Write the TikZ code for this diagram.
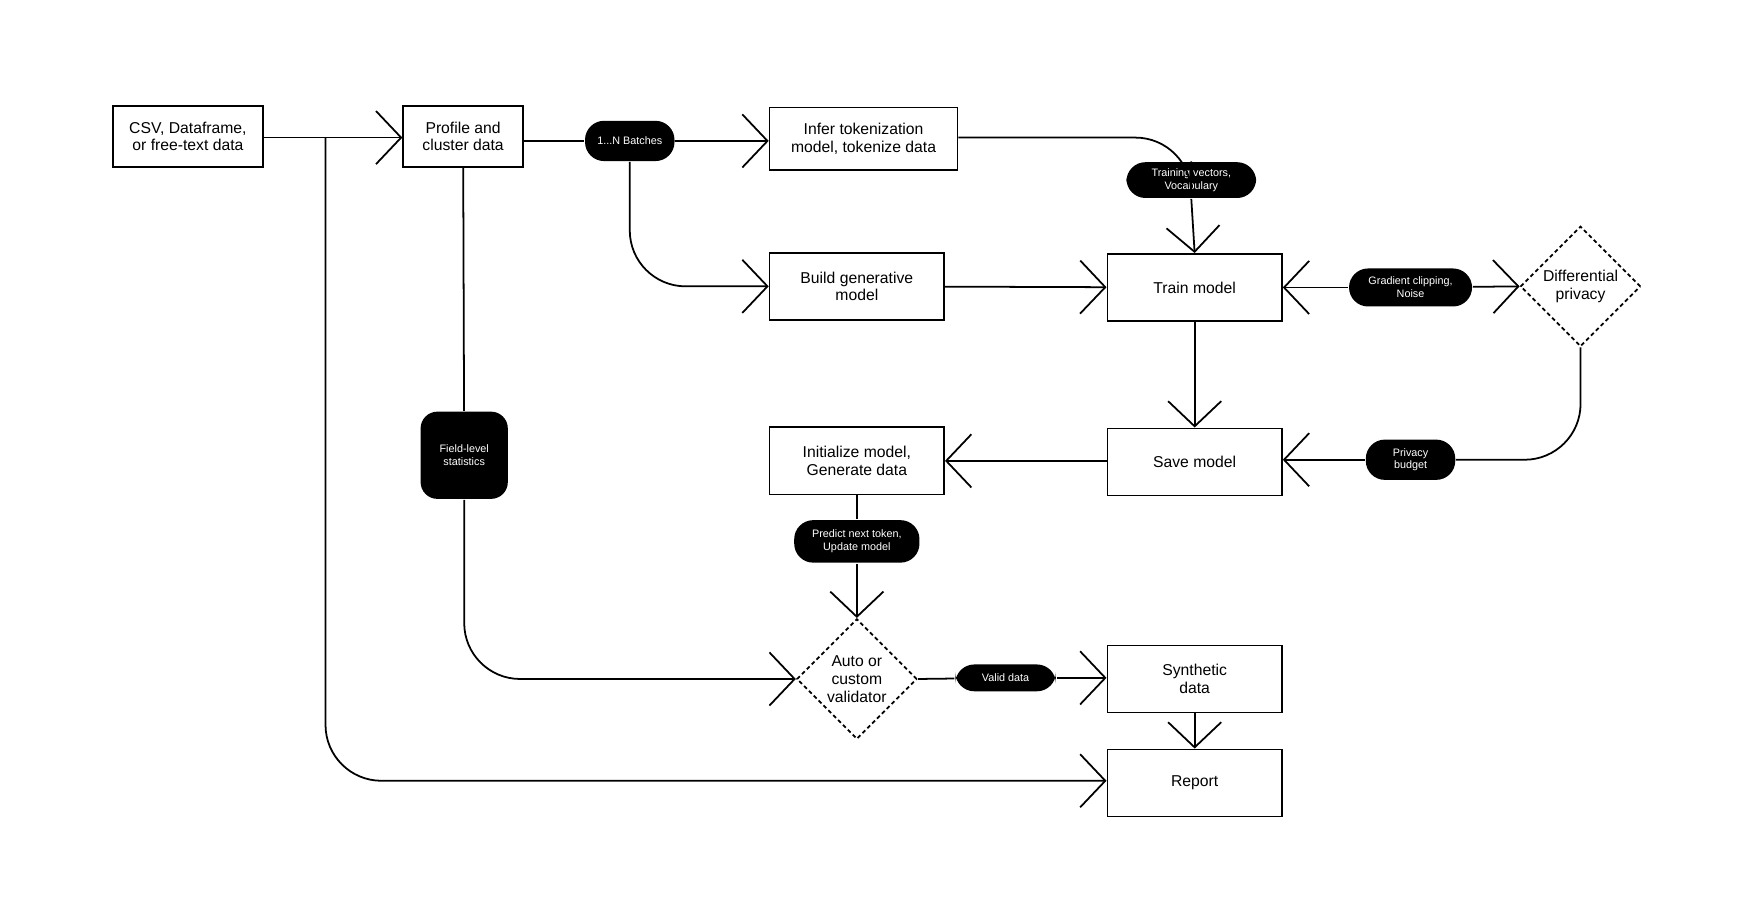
\documentclass[tikz,border=0pt]{standalone}
\usepackage{fontspec}
\setmainfont{Liberation Sans}
\usetikzlibrary{arrows.meta,shapes.geometric}
\begin{document}
\begin{tikzpicture}[x=0.02cm,y=-0.02cm,line width=0.9pt,
  box/.style={draw,rectangle,minimum width=#1*0.02cm,align=center,font=\fontsize{8}{9}\selectfont,inner sep=2pt},
  dia/.style={draw,diamond,dashed,dash pattern=on 2pt off 1.5pt,minimum width=2.15cm,minimum height=2.15cm,inner sep=0pt,align=center,font=\fontsize{8}{9}\selectfont},
  pill/.style={fill=black,text=white,rounded corners=0.34cm,align=center,font=\fontsize{5.5}{6.5}\selectfont,inner sep=2pt,minimum height=#1},
  arr/.style={-{Straight Barb[length=0.45cm,width=0.95cm]}},
  rc/.style={rounded corners=1cm}]
\useasboundingbox (0,0) rectangle (1560,821);
\node[box=134,minimum height=1.1cm] (csv) at (168,122) {CSV, Dataframe,\\or free-text data};
\node[box=107,minimum height=1.1cm] (prof) at (414,122) {Profile and\\cluster data};
\node[box=168,minimum height=1.12cm] (infer) at (772,124) {Infer tokenization\\model, tokenize data};
\node[box=156,minimum height=1.2cm] (build) at (766,256) {Build generative\\model};
\node[box=156,minimum height=1.2cm] (train) at (1068,257) {Train model};
\node[dia] (dp) at (1413,256) {Differential\\privacy};
\node[box=156,minimum height=1.2cm] (save) at (1068,413) {Save model};
\node[box=156,minimum height=1.2cm] (init) at (766,412) {Initialize model,\\Generate data};
\node[dia] (val) at (766,607) {Auto or\\custom\\validator};
\node[box=156,minimum height=1.2cm] (syn) at (1068,607) {Synthetic\\data};
\node[box=156,minimum height=1.2cm] (rep) at (1068,700) {Report};
\node[pill=0.72cm,minimum width=1.6cm] (batch) at (563,126) {1...N Batches};
\node[pill=0.64cm,minimum width=2.32cm] (tv) at (1065,161) {Training vectors,\\Vocabulary};
\node[pill=0.68cm,minimum width=2.2cm] (gc) at (1261,257) {Gradient clipping,\\Noise};
\node[pill=0.72cm,minimum width=1.6cm] (pb) at (1261,411) {Privacy\\budget};
\node[fill=black,text=white,rounded corners=0.3cm,minimum width=1.56cm,minimum height=1.56cm,align=center,font=\fontsize{5.5}{6.5}\selectfont] (fl) at (415,407) {Field-level\\statistics};
\node[pill=0.76cm,minimum width=2.24cm] (pn) at (766,484) {Predict next token,\\Update model};
\node[pill=0.48cm,minimum width=1.8cm] (vd) at (899,606) {Valid data};
\coordinate (br) at (291,123);
\draw[arr] (csv.east |- br) -- (prof.west |- br);
\draw[arr,rc] (br) -- (291,698) -- (rep.west |- 0,698);
\draw (prof.east |- batch) -- (batch);
\draw[arr] (batch) -- (infer.west |- batch);
\draw[arr,rc] (batch.south) -- (563,256) -- (build.west);
\draw[rc] (infer.east |- 0,123) -- (1065,123) -- (tv.north);
\draw[arr] (tv.south) -- (train.north);
\draw[arr] (build) -- (train);
\draw[arr] (gc) -- (train.east);
\draw[arr] (gc) -- (dp.west);
\draw[rc] (dp.south) -- (1413,411) -- (pb);
\draw[arr] (pb) -- (save.east |- pb);
\draw[arr] (train) -- (save);
\draw[arr] (save.west |- init) -- (init.east);
\draw (init) -- (pn);
\draw[arr] (pn) -- (val.north);
\draw (prof) -- (fl);
\draw[arr,rc] (fl.south) -- (415,607) -- (val.west);
\draw (val.east) -- (vd);
\draw[arr] (vd) -- (syn.west |- vd);
\draw[arr] (syn) -- (rep);
\end{tikzpicture}
\end{document}
